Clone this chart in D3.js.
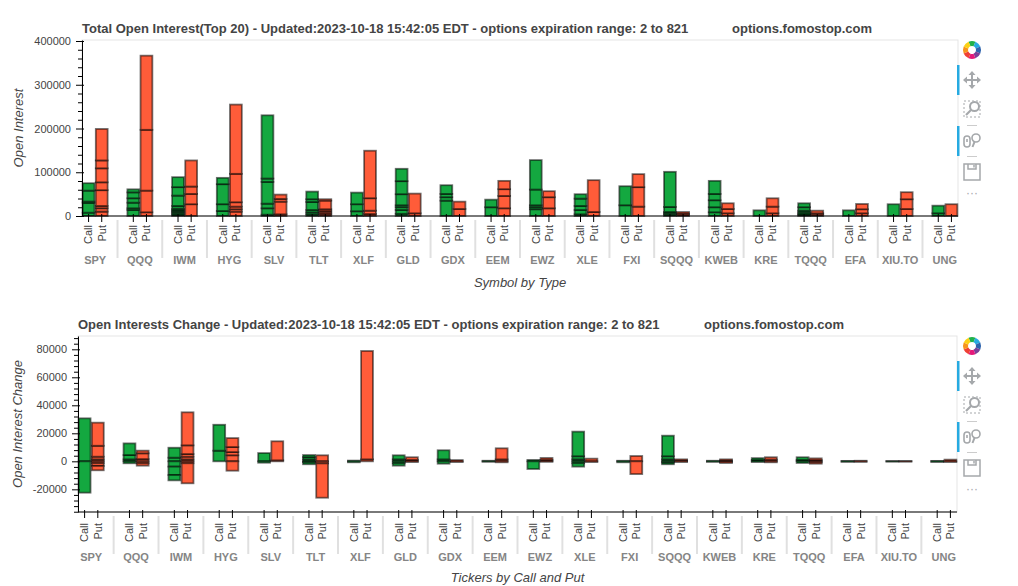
<!DOCTYPE html>
<html><head><meta charset="utf-8">
<script src="https://cdn.jsdelivr.net/npm/d3@7"></script>
<style>
body{margin:0;background:#fff;}
text{font-family:"Liberation Sans",Arial,Helvetica,sans-serif;}
</style></head><body>
<svg id="chart" width="1018" height="586"></svg>
<script>
const tickers = ["SPY","QQQ","IWM","HYG","SLV","TLT","XLF","GLD","GDX","EEM","EWZ","XLE","FXI","SQQQ","KWEB","KRE","TQQQ","EFA","XIU.TO","UNG"];
const types = ["Call","Put"];

// Total open interest, stacked segments (bottom-up)
const callOI = [
  [7600,22400,3000,25000,17000],
  [13800,3800,12900,10000,13500,7000],
  [2300,3000,3000,2500,3000,3000,6200,23600,19300,22900],
  [11500,15400,45800,14500],
  [3000,14600,10600,49800,7600,144600],
  [3900,4600,5300,18300,6200,17500],
  [10800,16100,26600],
  [5000,8800,6200,4500,25300,29800,28300],
  [35100,7800,7600,19900],
  [20000,17400],
  [15400,4600,4500,35900,67400],
  [3900,9900,9200,16700,10100],
  [24500,43600],
  [3000,3000,3200,11500,80300],
  [8500,11500,16000,14500,29800],
  [13000],
  [2000,2600,3500,4100,7800,9100],
  [13000],
  [26900],
  [6200,17400]
];
const putOI = [
  [10000,7700,5300,36000,18000,32000,18000,72000],
  [8500,49500,139000,169500],
  [26900,23600,16800,59700],
  [9900,5500,6000,10000,65000,158300],
  [3900,28900,6200,9900],
  [3900,3700,3900,4000,19700,3200],
  [4600,7600,28400,108600],
  [6200,45000],
  [16100,16700],
  [17600,28300,15400,19000],
  [17600,25300,13800],
  [9200,72700],
  [21400,44500,29800],
  [3000,3000,3200],
  [6200,9900,13000],
  [6200,15200,19100],
  [3000,3200,6000],
  [6200,9200,12100],
  [16100,22200,16100],
  [26900]
];
// Open interest change, segments (positives then negatives)
const callChg = [
  [30700,-22400],
  [1400,3100,8300,-1400],
  [2600,7100,-3800,-6000,-3800],
  [7600,18500],
  [5900,-1000],
  [1400,1600,1500,-700,-1400],
  [500,-700],
  [1400,2900,-1400,-1700],
  [1400,6500,-1700],
  [400,-300],
  [1000,-5500],
  [1400,2200,17600,-1400,-2400],
  [400,-700],
  [1400,2200,14700,-1000,-1100],
  [400,-400],
  [1000,1300,-500],
  [1000,1900,-1200],
  [300,-400],
  [200,-200],
  [300,-500]
];
const putChg = [
  [1400,1900,7800,16500,-1400,-1900,-3100],
  [1600,4100,1900,-1400,-1700],
  [1400,1900,1900,6200,23600,-1400,-14300],
  [4300,2300,3600,6400,-6700],
  [700,13600],
  [4300,-1500,-24500],
  [1400,77400],
  [1000,1900,-500],
  [900,-500],
  [1400,7900,-700],
  [1100,1300,-300],
  [1900,-500],
  [3800,-9100],
  [700,700,-500],
  [700,700,-600,-600],
  [1200,1700,-700],
  [900,1200,-800,-900],
  [400,-400],
  [200,-200],
  [1200,-500]
];
const topTicks = [0,100000,200000,300000,400000];
const bottomTicks = [-20000,0,20000,40000,60000,80000];

const COLORS = {Call:"#0ca53a", Put:"#ff5733"};
const svg = d3.select("#chart");

function panel(cfg){
  const g = svg.append("g");
  const {left,right,top,bottom} = cfg;
  const xg = d3.scaleBand().domain(tickers).range([left,right]).paddingInner(1.4/3.4).paddingOuter(0);
  const xt = d3.scaleBand().domain(types).range([0,xg.bandwidth()]).padding(0);
  const y = d3.scaleLinear().domain(cfg.yDomain).range([bottom,top]);

  // frame outline
  g.append("rect").attr("x",left).attr("y",top).attr("width",right-left).attr("height",bottom-top)
    .attr("fill","none").attr("stroke","#e5e5e5").attr("stroke-width",1);

  // rows for stacking
  const maxLen = d3.max([...cfg.calls,...cfg.puts], d=>d.length);
  const keys = d3.range(maxLen);
  const rows = [];
  tickers.forEach((t,i)=>{
    [["Call",cfg.calls[i]],["Put",cfg.puts[i]]].forEach(([ty,segs])=>{
      const r = {ticker:t,type:ty};
      keys.forEach(k=>r[k] = segs[k]||0);
      rows.push(r);
    });
  });
  const stacked = d3.stack().keys(keys).offset(d3.stackOffsetDiverging)(rows);
  const bw = xt.bandwidth()*0.9;
  const barG = g.append("g");
  stacked.forEach(layer=>{
    layer.forEach(d=>{
      if(d[0]===d[1]) return;
      const r = d.data;
      const cx = xg(r.ticker)+xt(r.type)+xt.bandwidth()/2;
      barG.append("rect")
        .attr("x",cx-bw/2).attr("width",bw)
        .attr("y",y(Math.max(d[0],d[1]))).attr("height",Math.abs(y(d[0])-y(d[1])))
        .attr("fill",COLORS[r.type]).attr("fill-opacity",0.97)
        .attr("stroke","#000").attr("stroke-width",1.8).attr("stroke-opacity",0.55);
    });
  });

  // y axis
  const ya = g.append("g").attr("transform",`translate(${left},0)`)
    .call(d3.axisLeft(y).tickValues(cfg.yTicks).tickSizeInner(6).tickSizeOuter(0).tickPadding(5).tickFormat(d=>String(d)));
  ya.select(".domain").attr("stroke","#000");
  ya.selectAll(".tick line").attr("x1",2).attr("stroke","#000");
  ya.selectAll(".tick text").attr("fill","#444").style("font-size","11px").style("font-family","'Liberation Sans',Arial,sans-serif");
  const minor = d3.range(cfg.minorStart, cfg.yDomain[1], cfg.minorStep).filter(v=>!cfg.yTicks.includes(v) && v>=cfg.yDomain[0]);
  const ym = g.append("g").attr("transform",`translate(${left},0)`)
    .call(d3.axisLeft(y).tickValues(minor).tickSize(4).tickFormat(""));
  ym.select(".domain").remove();
  ym.selectAll(".tick line").attr("stroke","#000");

  // x axis
  g.append("line").attr("x1",left).attr("x2",right).attr("y1",bottom).attr("y2",bottom).attr("stroke","#000");
  tickers.forEach((t,i)=>{
    types.forEach(ty=>{
      const cx = xg(t)+xt(ty)+xt.bandwidth()/2;
      g.append("line").attr("x1",cx).attr("x2",cx).attr("y1",bottom-2).attr("y2",bottom+6).attr("stroke","#000");
      g.append("text").attr("transform",`translate(${cx},${bottom+cfg.catOff}) rotate(-90)`)
        .attr("text-anchor","end").attr("dy","0.35em").attr("fill","#444").style("font-size","11px").text(ty);
    });
    g.append("text").attr("x",xg(t)+xg.bandwidth()/2).attr("y",bottom+cfg.grpOff)
      .attr("text-anchor","middle").attr("fill","#858585").style("font-size","11px").style("font-weight","bold").text(t);
    if(i>0){
      const sx = xg(t) - xg.step()*xg.paddingInner()/2;
      g.append("line").attr("x1",sx).attr("x2",sx).attr("y1",bottom+4).attr("y2",bottom+42)
        .attr("stroke","#e0e0e0").attr("stroke-width",2);
    }
  });

  // titles
  g.append("text").attr("x",left).attr("y",cfg.titleY).attr("fill","#444")
    .style("font-size","13px").style("font-weight","bold").text(cfg.title);
  g.append("text").attr("x",cfg.siteX).attr("y",cfg.titleY).attr("fill","#444")
    .style("font-size","13px").style("font-weight","bold").text("options.fomostop.com");
  g.append("text").attr("transform",`translate(${cfg.ylabX},${(top+bottom)/2}) rotate(-90)`)
    .attr("text-anchor","middle").attr("fill","#444").style("font-size","13px").style("font-style","italic").text(cfg.ylabel);
  g.append("text").attr("x",(left+right)/2).attr("y",cfg.xlabY).attr("text-anchor","middle")
    .attr("fill","#444").style("font-size","13px").style("font-style","italic").text(cfg.xlabel);

  toolbar(cfg.tbY);
}

function toolbar(oy){
  const t = svg.append("g").attr("transform",`translate(0,${oy})`);
  const cx = 972;
  // logo
  const logoCols = ["#21b14b","#27aae1","#2d63ad","#7b3f98","#e4197a","#ef4036","#f7941d","#fcd116"];
  const arc = d3.arc().innerRadius(4).outerRadius(9);
  const pie = d3.pie().value(1).sort(null).startAngle(-Math.PI/8).endAngle(2*Math.PI-Math.PI/8);
  t.append("g").attr("transform",`translate(${cx},50)`).selectAll("path").data(pie(logoCols)).join("path")
    .attr("d",arc).attr("fill",(d,i)=>logoCols[i]);
  const gray = "#a5a8ab";
  // active bars
  t.append("rect").attr("x",957).attr("y",65).attr("width",2.5).attr("height",30).attr("fill","#26aae1");
  t.append("rect").attr("x",957).attr("y",126).attr("width",2.5).attr("height",30).attr("fill","#26aae1");
  // pan
  const p = t.append("g").attr("transform",`translate(${cx},80)`).attr("stroke",gray).attr("fill",gray);
  p.append("line").attr("x1",-7).attr("x2",7).attr("stroke-width",2);
  p.append("line").attr("y1",-7).attr("y2",7).attr("stroke-width",2);
  [[0,-9,0],[9,0,90],[0,9,180],[-9,0,270]].forEach(([x,yy,r])=>{
    p.append("path").attr("d","M0,0 L-3.5,4 L3.5,4 Z").attr("stroke","none")
      .attr("transform",`translate(${x},${yy}) rotate(${r})`);
  });
  // box zoom
  const b = t.append("g").attr("transform",`translate(${cx},109)`).attr("fill","none").attr("stroke",gray);
  b.append("rect").attr("x",-8).attr("y",-8).attr("width",16).attr("height",16).attr("stroke-dasharray","2,2").attr("stroke-width",1);
  b.append("circle").attr("cx",2.5).attr("cy",-2.5).attr("r",4.5).attr("stroke-width",2);
  b.append("line").attr("x1",-0.5).attr("y1",0.5).attr("x2",-6).attr("y2",6).attr("stroke-width",2.2);
  // separators
  t.append("line").attr("x1",967).attr("x2",977).attr("y1",125.5).attr("y2",125.5).attr("stroke","#ccc");
  t.append("line").attr("x1",967).attr("x2",977).attr("y1",156.5).attr("y2",156.5).attr("stroke","#ccc");
  // wheel zoom
  const w = t.append("g").attr("transform",`translate(${cx},140)`).attr("fill","none").attr("stroke",gray).attr("stroke-width",1.6);
  w.append("rect").attr("x",-8).attr("y",-4).attr("width",6).attr("height",11).attr("rx",3);
  w.append("line").attr("x1",-5).attr("x2",-5).attr("y1",-1).attr("y2",2);
  w.append("circle").attr("cx",4).attr("cy",-2).attr("r",4);
  w.append("line").attr("x1",2.5).attr("y1",1.8).attr("x2",0.5).attr("y2",7).attr("stroke-width",2);
  // save
  const s = t.append("g").attr("transform",`translate(${cx},172)`).attr("fill","none").attr("stroke",gray).attr("stroke-width",1.5);
  s.append("rect").attr("x",-8).attr("y",-8).attr("width",16).attr("height",16);
  s.append("path").attr("d","M-4,-8 L-4,-3 L4,-3 L4,-8");
  s.append("line").attr("x1",2).attr("x2",2).attr("y1",-7).attr("y2",-4.5);
  // more
  t.append("text").attr("x",cx).attr("y",197).attr("text-anchor","middle").attr("fill",gray)
    .style("font-size","12px").text("···");
}

panel({
  left:82,right:958,top:40,bottom:216,
  yDomain:[0,402300], yTicks:topTicks, minorStart:0, minorStep:20000,
  calls:callOI, puts:putOI,
  title:"Total Open Interest(Top 20) - Updated:2023-10-18 15:42:05 EDT - options expiration range: 2 to 821",
  siteX:732, titleY:33,
  ylabel:"Open Interest", ylabX:23,
  xlabel:"Symbol by Type", xlabY:287,
  catOff:9, grpOff:48, tbY:0
});
panel({
  left:78,right:957,top:336,bottom:512,
  yDomain:[-36200,89500], yTicks:bottomTicks, minorStart:-36000, minorStep:4000,
  calls:callChg, puts:putChg,
  title:"Open Interests Change - Updated:2023-10-18 15:42:05 EDT - options expiration range: 2 to 821",
  siteX:704, titleY:329,
  ylabel:"Open Interest Change", ylabX:22,
  xlabel:"Tickers by Call and Put", xlabY:582,
  catOff:11, grpOff:49, tbY:296
});
</script>
</body></html>
